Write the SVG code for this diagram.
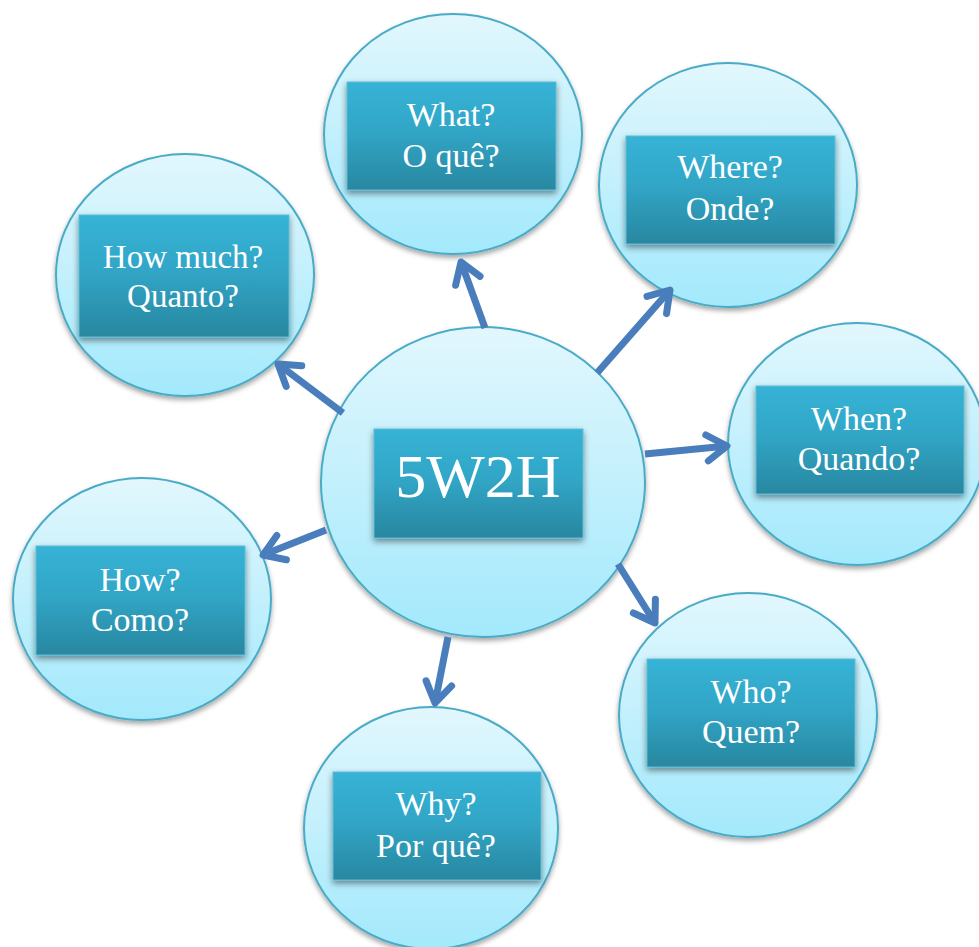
<svg xmlns="http://www.w3.org/2000/svg" width="979" height="947" viewBox="0 0 979 947">
  <defs>
    <linearGradient id="bubbleFill" x1="0" y1="0" x2="0" y2="1">
      <stop offset="0" stop-color="#e2f7fd"/>
      <stop offset="1" stop-color="#a3e9fc"/>
    </linearGradient>
    <linearGradient id="boxFill" x1="0" y1="0" x2="0" y2="1">
      <stop offset="0" stop-color="#36b3d6"/>
      <stop offset="0.45" stop-color="#31a6c7"/>
      <stop offset="1" stop-color="#2987a0"/>
    </linearGradient>
    <filter id="bubbleShadow" x="-10%" y="-10%" width="120%" height="125%">
      <feDropShadow dx="0" dy="3" stdDeviation="2.5" flood-color="#000" flood-opacity="0.35"/>
    </filter>
    <filter id="boxShadow" x="-10%" y="-15%" width="120%" height="140%">
      <feDropShadow dx="0" dy="3" stdDeviation="3" flood-color="#000" flood-opacity="0.45"/>
    </filter>
    <marker id="chevron" viewBox="-26 -20 32 40" markerWidth="32" markerHeight="40" refX="0" refY="0" orient="auto" markerUnits="userSpaceOnUse">
      <path d="M-20,-13 L0,0 L-20,13" fill="none" stroke="#4a7dbb" stroke-width="7" stroke-linecap="round" stroke-linejoin="round"/>
    </marker>
  </defs>
  <style>
    .bubble { fill: url(#bubbleFill); stroke: #49abc6; stroke-width: 2; filter: url(#bubbleShadow); }
    .box { fill: url(#boxFill); stroke: #5cbcd6; stroke-width: 1; filter: url(#boxShadow); }
    .label { font-family: "Liberation Serif", "Times New Roman", serif; font-size: 34px; fill: #ffffff; text-anchor: middle; }
    .title { font-family: "Liberation Serif", "Times New Roman", serif; font-size: 62px; fill: #ffffff; text-anchor: middle; }
    .link { stroke: #4a7dbb; stroke-width: 7; fill: none; marker-end: url(#chevron); }
  </style>

  <g id="node-what">
    <ellipse class="bubble" cx="453" cy="134" rx="129" ry="120"/>
    <rect class="box" x="347" y="82" width="209" height="108"/>
    <text class="label" x="451" y="126">What?</text>
    <text class="label" x="451" y="167">O quê?</text>
  </g>

  <g id="node-where">
    <ellipse class="bubble" cx="728" cy="185" rx="129" ry="122"/>
    <rect class="box" x="626" y="136" width="209" height="108"/>
    <text class="label" x="730" y="178">Where?</text>
    <text class="label" x="730" y="220">Onde?</text>
  </g>

  <g id="node-when">
    <ellipse class="bubble" cx="857" cy="444" rx="129" ry="121"/>
    <rect class="box" x="756" y="386" width="208" height="108"/>
    <text class="label" x="859" y="430">When?</text>
    <text class="label" x="859" y="470">Quando?</text>
  </g>

  <g id="node-who">
    <ellipse class="bubble" cx="748" cy="715" rx="129" ry="122"/>
    <rect class="box" x="647" y="659" width="208" height="108"/>
    <text class="label" x="751" y="703">Who?</text>
    <text class="label" x="751" y="743">Quem?</text>
  </g>

  <g id="node-why">
    <ellipse class="bubble" cx="431" cy="828" rx="127" ry="121"/>
    <rect class="box" x="333" y="772" width="208" height="108"/>
    <text class="label" x="436" y="815">Why?</text>
    <text class="label" x="436" y="857">Por quê?</text>
  </g>

  <g id="node-how">
    <ellipse class="bubble" cx="142" cy="599" rx="129" ry="121"/>
    <rect class="box" x="36" y="546" width="209" height="109"/>
    <text class="label" x="140" y="591">How?</text>
    <text class="label" x="140" y="631">Como?</text>
  </g>

  <g id="node-how-much">
    <ellipse class="bubble" cx="185" cy="275" rx="129" ry="121"/>
    <rect class="box" x="79" y="215" width="210" height="122"/>
    <text class="label" x="183" y="268" style="font-size:33px">How much?</text>
    <text class="label" x="183" y="307" style="font-size:33px">Quanto?</text>
  </g>

  <g id="node-5w2h">
    <ellipse class="bubble" cx="483" cy="482" rx="162" ry="155"/>
    <rect class="box" x="374" y="429" width="209" height="109"/>
    <text class="title" x="478" y="497">5W2H</text>
  </g>

  <g id="connectors">
    <line class="link" x1="485" y1="328" x2="461" y2="262"/>
    <line class="link" x1="597" y1="373" x2="670" y2="290"/>
    <line class="link" x1="645" y1="454" x2="727" y2="446"/>
    <line class="link" x1="618" y1="564" x2="655" y2="623"/>
    <line class="link" x1="448" y1="637" x2="435" y2="703"/>
    <line class="link" x1="326" y1="530" x2="263" y2="555"/>
    <line class="link" x1="343" y1="413" x2="278" y2="364"/>
  </g>
</svg>
